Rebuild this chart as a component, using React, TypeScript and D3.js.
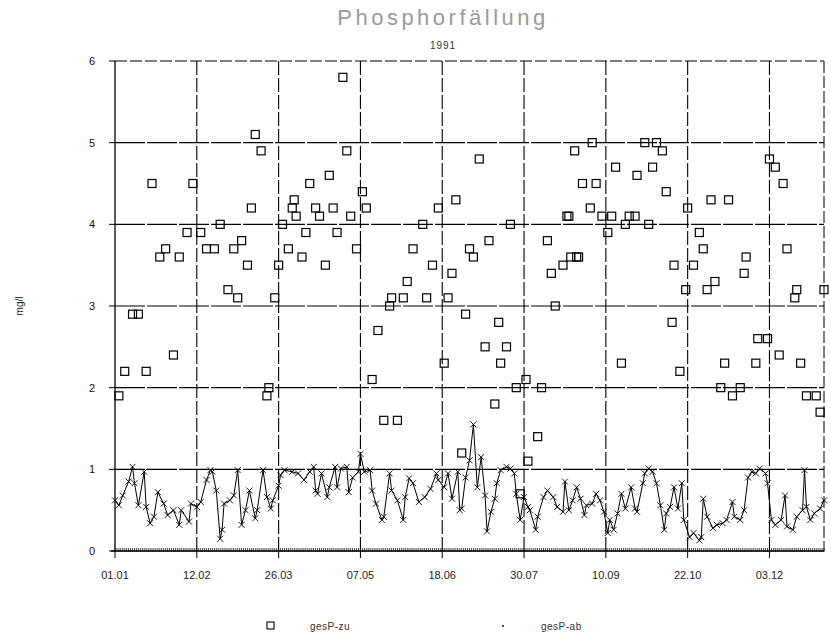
import React from 'react';
import * as d3 from 'd3';

// gesP-zu (squares): day of year, value mg/l
const zuDays = [2, 5, 9, 12, 16, 19, 23, 26, 30, 33, 37, 40, 44, 47, 51, 54, 58, 61, 63, 65, 68, 70, 72, 75, 78, 79, 82, 84, 86, 89, 91, 92, 93, 96, 98, 100, 103, 105, 108, 110, 112, 114, 117, 119, 121, 124, 127, 129, 132, 135, 138, 141, 142, 145, 148, 150, 153, 158, 160, 163, 166, 169, 171, 173, 175, 178, 180, 182, 184, 187, 190, 192, 195, 197, 198, 201, 203, 206, 208, 211, 212, 217, 219, 222, 224, 226, 230, 232, 233, 234, 236, 237, 238, 240, 244, 245, 247, 250, 253, 255, 257, 260, 262, 264, 267, 268, 272, 274, 276, 278, 281, 283, 286, 287, 290, 293, 294, 297, 300, 302, 304, 306, 308, 311, 313, 315, 317, 321, 323, 324, 329, 330, 335, 336, 339, 341, 343, 345, 349, 350, 352, 355, 360, 362, 364];
const zuValues = [1.9, 2.2, 2.9, 2.9, 2.2, 4.5, 3.6, 3.7, 2.4, 3.6, 3.9, 4.5, 3.9, 3.7, 3.7, 4.0, 3.2, 3.7, 3.1, 3.8, 3.5, 4.2, 5.1, 4.9, 1.9, 2.0, 3.1, 3.5, 4.0, 3.7, 4.2, 4.3, 4.1, 3.6, 3.9, 4.5, 4.2, 4.1, 3.5, 4.6, 4.2, 3.9, 5.8, 4.9, 4.1, 3.7, 4.4, 4.2, 2.1, 2.7, 1.6, 3.0, 3.1, 1.6, 3.1, 3.3, 3.7, 4.0, 3.1, 3.5, 4.2, 2.3, 3.1, 3.4, 4.3, 1.2, 2.9, 3.7, 3.6, 4.8, 2.5, 3.8, 1.8, 2.8, 2.3, 2.5, 4.0, 2.0, 0.7, 2.1, 1.1, 1.4, 2.0, 3.8, 3.4, 3.0, 3.5, 4.1, 4.1, 3.6, 4.9, 3.6, 3.6, 4.5, 4.2, 5.0, 4.5, 4.1, 3.9, 4.1, 4.7, 2.3, 4.0, 4.1, 4.1, 4.6, 5.0, 4.0, 4.7, 5.0, 4.9, 4.4, 2.8, 3.5, 2.2, 3.2, 4.2, 3.5, 3.9, 3.7, 3.2, 4.3, 3.3, 2.0, 2.3, 4.3, 1.9, 2.0, 3.4, 3.6, 2.3, 2.6, 2.6, 4.8, 4.7, 2.4, 4.5, 3.7, 3.1, 3.2, 2.3, 1.9, 1.9, 1.7, 3.2];

// gesP-ab (line with x markers)
const abDays = [0, 2, 4, 7, 9, 10, 12, 15, 16, 18, 20, 22, 25, 27, 30, 33, 34, 38, 39, 42, 44, 47, 49, 50, 52, 54, 55, 56, 59, 61, 63, 65, 67, 69, 72, 73, 76, 78, 80, 81, 84, 85, 87, 91, 94, 97, 100, 102, 103, 104, 106, 109, 110, 113, 114, 116, 119, 120, 122, 125, 126, 128, 131, 132, 134, 137, 138, 141, 142, 145, 148, 149, 151, 153, 156, 159, 162, 165, 166, 169, 171, 173, 176, 177, 178, 180, 182, 184, 186, 188, 190, 191, 193, 195, 196, 198, 201, 203, 205, 206, 208, 210, 212, 213, 216, 217, 220, 222, 225, 227, 230, 231, 233, 235, 237, 239, 241, 242, 245, 247, 249, 251, 253, 254, 256, 258, 260, 262, 265, 267, 268, 271, 272, 274, 276, 278, 280, 282, 283, 285, 287, 289, 291, 292, 295, 297, 300, 301, 302, 304, 307, 309, 312, 314, 317, 318, 321, 323, 325, 327, 329, 331, 334, 335, 337, 339, 342, 344, 345, 348, 350, 353, 354, 355, 357, 359, 362, 364];
const abValues = [0.62, 0.56, 0.68, 0.85, 1.03, 0.83, 0.56, 0.97, 0.54, 0.34, 0.42, 0.72, 0.58, 0.44, 0.5, 0.32, 0.5, 0.36, 0.58, 0.54, 0.6, 0.87, 0.99, 0.97, 0.74, 0.15, 0.26, 0.58, 0.62, 0.68, 0.99, 0.32, 0.5, 0.74, 0.4, 0.5, 0.99, 0.66, 0.52, 0.62, 0.8, 0.93, 0.99, 0.97, 0.95, 0.87, 0.97, 1.03, 0.74, 0.7, 0.95, 0.66, 0.78, 1.03, 0.78, 1.01, 1.03, 0.72, 0.9, 0.97, 1.19, 0.97, 0.99, 0.74, 0.58, 0.38, 0.42, 0.95, 0.74, 0.62, 0.38, 0.66, 0.89, 0.83, 0.6, 0.66, 0.76, 0.95, 0.87, 0.78, 0.95, 0.64, 0.97, 0.5, 0.52, 0.9, 1.11, 1.55, 0.78, 1.15, 0.68, 0.24, 0.48, 0.64, 0.83, 0.99, 1.03, 1.01, 0.95, 0.7, 0.38, 0.66, 0.54, 0.5, 0.26, 0.42, 0.66, 0.74, 0.66, 0.54, 0.48, 0.85, 0.5, 0.62, 0.78, 0.64, 0.44, 0.56, 0.58, 0.7, 0.62, 0.48, 0.22, 0.38, 0.26, 0.46, 0.7, 0.52, 0.78, 0.52, 0.48, 0.83, 0.95, 1.01, 0.97, 0.83, 0.56, 0.26, 0.46, 0.54, 0.78, 0.52, 0.83, 0.38, 0.17, 0.22, 0.13, 0.17, 0.64, 0.42, 0.28, 0.32, 0.34, 0.38, 0.6, 0.42, 0.38, 0.5, 0.9, 0.97, 0.95, 1.01, 0.95, 0.83, 0.38, 0.32, 0.38, 0.68, 0.3, 0.26, 0.42, 0.5, 0.99, 0.54, 0.38, 0.46, 0.52, 0.62];

const xTickDays = [0, 42, 84, 126, 168, 210, 252, 294, 336];
const xTickLabels = ['01.01', '12.02', '26.03', '07.05', '18.06', '30.07', '10.09', '22.10', '03.12'];
const yTicks = [0, 1, 2, 3, 4, 5, 6];

export default function App() {
  const x = d3.scaleLinear().domain([0, 364]).range([115, 824]);
  const y = d3.scaleLinear().domain([0, 6]).range([551, 61]);
  const pts = abDays.map((d, i) => [x(d), y(abValues[i])] as [number, number]);
  const lineGen = d3.line<[number, number]>().x(d => d[0]).y(d => d[1]);
  const minorDays = d3.range(0, 365);
  const font = 'Liberation Sans, Arial, sans-serif';
  const [x0, x1] = x.range();
  const [y0, y1] = y.range();

  return (
    <svg width={831} height={635} style={{ position: 'absolute', left: 0, top: 0, background: '#fff' }} fontFamily={font}>
      <rect x={0} y={0} width={831} height={635} fill="#fff" />
      <text x={443} y={25} textAnchor="middle" fontSize={22} letterSpacing={3.5} fill="#9a9a9a">Phosphorfällung</text>
      <text x={443} y={49} textAnchor="middle" fontSize={10} letterSpacing={1} fill="#333">1991</text>

      {/* horizontal grid */}
      {yTicks.filter(t => t > 0).map(t => (
        <line key={'h' + t} x1={x0} x2={x1} y1={y(t)} y2={y(t)} stroke="#000" strokeWidth={1.1} strokeDasharray={t === 6 ? '12,3' : '30,2'} />
      ))}
      {/* vertical grid */}
      {xTickDays.filter(d => d > 0).map(d => (
        <line key={'v' + d} x1={x(d)} x2={x(d)} y1={y1} y2={y0} stroke="#000" strokeWidth={1.1} strokeDasharray="14,3" />
      ))}
      <line x1={x1} x2={x1} y1={y1} y2={y0} stroke="#000" strokeWidth={1} strokeDasharray="12,3" />
      {/* axes */}
      <line x1={x0} x2={x0} y1={y1} y2={y0} stroke="#000" strokeWidth={1.3} />
      <line x1={x0 - 4} x2={x1} y1={y0} y2={y0} stroke="#000" strokeWidth={1.5} />
      {minorDays.map(d => (
        <line key={'m' + d} x1={x(d)} x2={x(d)} y1={y0 - 3} y2={y0 + 1} stroke="#000" strokeWidth={0.7} />
      ))}
      {xTickDays.map(d => (
        <line key={'t' + d} x1={x(d)} x2={x(d)} y1={y0} y2={y0 + 7} stroke="#000" strokeWidth={1} />
      ))}
      {yTicks.map(t => (
        <line key={'yt' + t} x1={x0 - 6} x2={x0} y1={y(t)} y2={y(t)} stroke="#000" strokeWidth={1} />
      ))}
      {yTicks.map(t => (
        <text key={'yl' + t} x={92} y={y(t) + 4} textAnchor="middle" fontSize={11} fill="#111">{t}</text>
      ))}
      {xTickDays.map((d, i) => (
        <text key={'xl' + d} x={x(d)} y={579} textAnchor="middle" fontSize={11} fill="#222">{xTickLabels[i]}</text>
      ))}
      <text transform="translate(23,306) rotate(-90)" textAnchor="middle" fontSize={10} fill="#222">mg/l</text>

      {/* gesP-ab line */}
      <path d={lineGen(pts) || ''} fill="none" stroke="#000" strokeWidth={1} />
      {pts.map((p, i) => (
        <path key={'x' + i} d={`M${p[0] - 3},${p[1] - 3}L${p[0] + 3},${p[1] + 3}M${p[0] - 3},${p[1] + 3}L${p[0] + 3},${p[1] - 3}`} stroke="#000" strokeWidth={0.9} />
      ))}

      {/* gesP-zu squares */}
      {zuDays.map((d, i) => (
        <rect key={'s' + i} x={x(d) - 4} y={y(zuValues[i]) - 4} width={8} height={8} fill="none" stroke="#000" strokeWidth={1.2} />
      ))}

      {/* legend */}
      <rect x={267} y={622} width={7} height={7} fill="none" stroke="#000" strokeWidth={1.1} />
      <text x={310} y={630} fontSize={10} letterSpacing={0.5} fill="#333">gesP-zu</text>
      <circle cx={503} cy={626} r={0.9} fill="#000" />
      <text x={541} y={630} fontSize={10} letterSpacing={0.5} fill="#333">gesP-ab</text>
    </svg>
  );
}
